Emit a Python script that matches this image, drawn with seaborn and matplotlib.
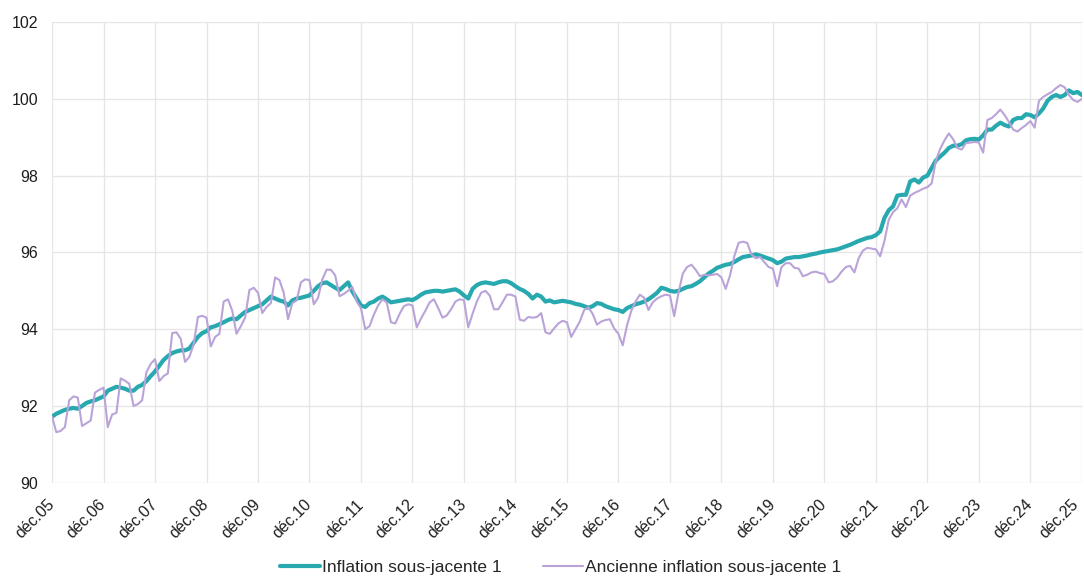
import numpy as np
import pandas as pd
import matplotlib
matplotlib.use("Agg")
import matplotlib.pyplot as plt
import matplotlib.transforms as mtransforms
import seaborn as sns

# monthly index values, dec 2005 -> dec 2025 (one row per year, jan..dec)
inflation_sj = [91.72,
    91.80, 91.85, 91.90, 91.93, 91.95, 91.93, 92.00, 92.08, 92.12, 92.15, 92.20, 92.25,  # 2006
    92.40, 92.45, 92.50, 92.48, 92.45, 92.40, 92.40, 92.50, 92.55, 92.65, 92.78, 92.90,  # 2007
    93.05, 93.20, 93.30, 93.38, 93.42, 93.45, 93.45, 93.50, 93.65, 93.80, 93.90, 93.95,  # 2008
    94.05, 94.08, 94.13, 94.18, 94.24, 94.28, 94.26, 94.36, 94.45, 94.50, 94.55, 94.60,  # 2009
    94.65, 94.75, 94.85, 94.80, 94.75, 94.72, 94.62, 94.75, 94.80, 94.82, 94.85, 94.88,  # 2010
    95.00, 95.12, 95.20, 95.22, 95.15, 95.08, 95.02, 95.12, 95.22, 94.98, 94.80, 94.62,  # 2011
    94.58, 94.68, 94.72, 94.80, 94.85, 94.78, 94.70, 94.72, 94.74, 94.76, 94.78, 94.76,  # 2012
    94.82, 94.90, 94.96, 94.98, 95.00, 95.00, 94.98, 95.00, 95.02, 95.04, 94.98, 94.88,  # 2013
    94.80, 95.05, 95.15, 95.20, 95.22, 95.20, 95.18, 95.22, 95.25, 95.25, 95.20, 95.12,  # 2014
    95.05, 95.00, 94.92, 94.80, 94.90, 94.85, 94.72, 94.75, 94.70, 94.72, 94.74, 94.72,  # 2015
    94.70, 94.66, 94.64, 94.60, 94.56, 94.60, 94.68, 94.66, 94.60, 94.56, 94.52, 94.50,  # 2016
    94.45, 94.55, 94.60, 94.65, 94.68, 94.72, 94.78, 94.86, 94.95, 95.08, 95.05, 95.00,  # 2017
    94.98, 95.00, 95.05, 95.10, 95.12, 95.18, 95.25, 95.35, 95.45, 95.52, 95.60, 95.64,  # 2018
    95.68, 95.70, 95.75, 95.82, 95.88, 95.90, 95.92, 95.95, 95.92, 95.88, 95.84, 95.80,  # 2019
    95.72, 95.76, 95.84, 95.86, 95.88, 95.88, 95.90, 95.92, 95.95, 95.97, 96.00, 96.02,  # 2020
    96.04, 96.06, 96.08, 96.12, 96.16, 96.20, 96.25, 96.30, 96.34, 96.38, 96.40, 96.45,  # 2021
    96.55, 96.90, 97.10, 97.20, 97.48, 97.50, 97.50, 97.85, 97.90, 97.82, 97.95, 98.00,  # 2022
    98.20, 98.40, 98.50, 98.60, 98.72, 98.78, 98.78, 98.82, 98.92, 98.95, 98.96, 98.94,  # 2023
    99.05, 99.20, 99.20, 99.30, 99.38, 99.32, 99.28, 99.45, 99.50, 99.50, 99.60, 99.58,  # 2024
    99.52, 99.62, 99.75, 99.95, 100.05, 100.10, 100.05, 100.10, 100.22, 100.15, 100.18, 100.10,  # 2025
]

ancienne_sj = [91.72,
    91.32, 91.35, 91.45, 92.15, 92.25, 92.22, 91.48, 91.55, 91.62, 92.35, 92.42, 92.48,  # 2006
    91.45, 91.78, 91.82, 92.72, 92.66, 92.58, 92.00, 92.05, 92.15, 92.88, 93.10, 93.22,  # 2007
    92.65, 92.78, 92.85, 93.90, 93.92, 93.75, 93.15, 93.28, 93.60, 94.32, 94.35, 94.30,  # 2008
    93.55, 93.80, 93.88, 94.72, 94.78, 94.48, 93.88, 94.08, 94.30, 95.02, 95.08, 94.95,  # 2009
    94.42, 94.58, 94.68, 95.35, 95.28, 94.95, 94.26, 94.68, 94.75, 95.22, 95.30, 95.28,  # 2010
    94.65, 94.82, 95.30, 95.55, 95.55, 95.40, 94.86, 94.92, 95.00, 95.10, 94.72, 94.55,  # 2011
    94.00, 94.08, 94.38, 94.62, 94.78, 94.70, 94.18, 94.15, 94.40, 94.60, 94.65, 94.62,  # 2012
    94.05, 94.28, 94.48, 94.70, 94.78, 94.55, 94.30, 94.36, 94.52, 94.72, 94.78, 94.76,  # 2013
    94.05, 94.40, 94.72, 94.95, 95.00, 94.88, 94.52, 94.52, 94.70, 94.90, 94.90, 94.85,  # 2014
    94.25, 94.22, 94.32, 94.30, 94.32, 94.42, 93.92, 93.88, 94.02, 94.15, 94.22, 94.18,  # 2015
    93.80, 94.00, 94.20, 94.50, 94.57, 94.40, 94.12, 94.20, 94.24, 94.26, 94.02, 93.88,  # 2016
    93.58, 94.10, 94.48, 94.72, 94.90, 94.82, 94.50, 94.70, 94.80, 94.86, 94.90, 94.88,  # 2017
    94.34, 94.95, 95.45, 95.62, 95.68, 95.55, 95.38, 95.42, 95.40, 95.42, 95.44, 95.35,  # 2018
    95.05, 95.40, 95.90, 96.25, 96.28, 96.25, 95.95, 95.85, 95.88, 95.75, 95.62, 95.58,  # 2019
    95.12, 95.62, 95.72, 95.72, 95.60, 95.58, 95.38, 95.42, 95.48, 95.50, 95.46, 95.44,  # 2020
    95.22, 95.25, 95.35, 95.50, 95.62, 95.65, 95.48, 95.85, 96.05, 96.12, 96.10, 96.08,  # 2021
    95.90, 96.30, 96.85, 97.05, 97.15, 97.38, 97.18, 97.48, 97.55, 97.60, 97.66, 97.70,  # 2022
    97.80, 98.40, 98.70, 98.92, 99.10, 98.95, 98.72, 98.68, 98.85, 98.86, 98.88, 98.86,  # 2023
    98.60, 99.45, 99.50, 99.60, 99.72, 99.58, 99.40, 99.20, 99.15, 99.24, 99.32, 99.42,  # 2024
    99.25, 99.95, 100.05, 100.12, 100.18, 100.28, 100.36, 100.30, 100.10, 99.97, 99.92, 100.00,  # 2025
]

tick_labels = ["déc.05", "déc.06", "déc.07", "déc.08", "déc.09", "déc.10", "déc.11",
               "déc.12", "déc.13", "déc.14", "déc.15", "déc.16", "déc.17", "déc.18",
               "déc.19", "déc.20", "déc.21", "déc.22", "déc.23", "déc.24", "déc.25"]
y_ticks = [90, 92, 94, 96, 98, 100, 102]

df = pd.DataFrame({"mois": np.arange(len(inflation_sj)),
                   "new": inflation_sj,
                   "old": ancienne_sj})

sns.set_style("white")
plt.rcParams["font.family"] = ["Liberation Sans", "DejaVu Sans"]

fig = plt.figure(figsize=(10.84, 5.81), dpi=100)
ax = fig.add_axes([0.048, 0.169, 0.950, 0.793])

sns.lineplot(data=df, x="mois", y="new", ax=ax, color="#27A9AF", lw=3.0,
             label="Inflation sous-jacente 1")
sns.lineplot(data=df, x="mois", y="old", ax=ax, color="#B9A3D8", lw=1.5,
             label="Ancienne inflation sous-jacente 1")

ax.set_xlim(0, 240)
ax.set_ylim(90, 102)
ax.tick_params(axis="x", length=0, pad=14)
ax.tick_params(axis="y", length=0, pad=10)
ax.set_xticks(np.arange(0, 241, 12))
ax.set_xticklabels(tick_labels, rotation=45, ha="right", va="center",
                   rotation_mode="anchor", fontsize=11.5, color="#1e1e1e")
ax.set_yticks(y_ticks)
ax.set_yticklabels([str(v) for v in y_ticks], fontsize=11.5, color="#1e1e1e")
ax.set_xlabel("")
ax.set_ylabel("")
ax.grid(True, color="#E6E6E6", lw=1)
ax.set_axisbelow(True)
for s in ax.spines.values():
    s.set_visible(False)

# last label sits at the figure edge, pull it in a little
last = ax.get_xticklabels()[-1]
last.set_transform(last.get_transform() +
                   mtransforms.ScaledTranslation(-6 / 100, 0, fig.dpi_scale_trans))

ax.get_legend().remove()
handles, labels = ax.get_legend_handles_labels()
fig.legend(handles, labels, loc="lower center", bbox_to_anchor=(0.517, -0.016),
           ncol=2, frameon=False, fontsize=12.5, handlelength=2.3,
           handletextpad=0.1, columnspacing=2.4)

fig.savefig("out.png", dpi=100)
